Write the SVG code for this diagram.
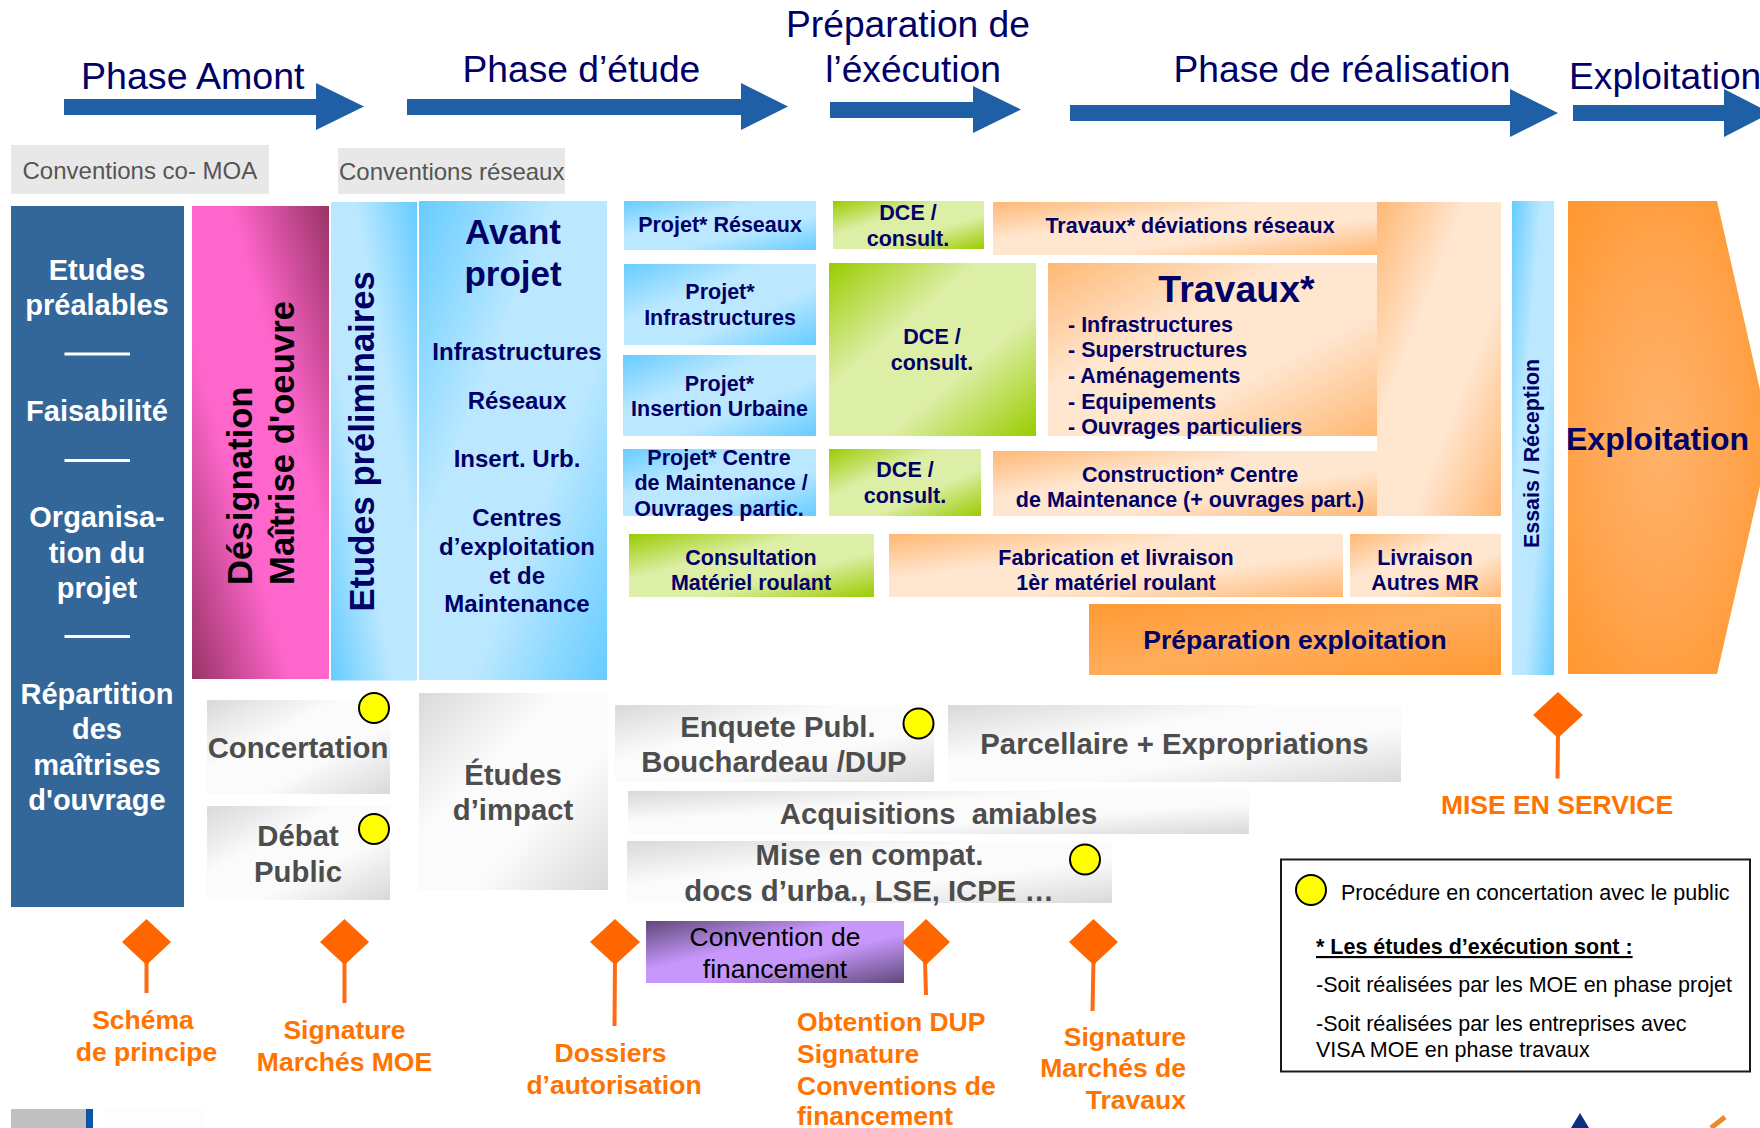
<svg xmlns="http://www.w3.org/2000/svg" width="1760" height="1128" viewBox="0 0 1760 1128">
<style>
text{font-family:"Liberation Sans",Arial,sans-serif}
.m{text-anchor:middle}
.b{font-weight:700}
.navy{fill:#000066}
.white{fill:#fff;font-weight:700;font-size:29px;text-anchor:middle}
.phase{fill:#000066;font-size:37.200px}
.conv{fill:#555;font-size:24px}
.gt{fill:#4d4d4d;font-weight:700;font-size:29.300px;text-anchor:middle}
.nv{fill:#000066;font-weight:700;font-size:21.500px;text-anchor:middle}
.ap{fill:#000066;font-weight:700;font-size:24px;text-anchor:middle}
.or{fill:#ff7300;font-weight:700;font-size:26.500px}
.dia{fill:#ff6600}
.stem{stroke:#ff6a13;stroke-width:4;fill:none}
.dot{fill:#ffff00;stroke:#000;stroke-width:2}
.arrow{fill:#1f5fa6}
.leg{fill:#000;font-size:21.500px}
.sep{stroke:#fff;stroke-width:3}
</style>
<defs>
<linearGradient id="gBlue" x1="0" y1="0" x2="1" y2="1"><stop offset="0" stop-color="#66ccff"/><stop offset=".36" stop-color="#bbe8ff"/><stop offset=".64" stop-color="#bbe8ff"/><stop offset="1" stop-color="#66ccff"/></linearGradient>
<linearGradient id="gBlueR" x1="1" y1="0" x2="0" y2="1"><stop offset="0" stop-color="#66ccff"/><stop offset=".36" stop-color="#bbe8ff"/><stop offset=".64" stop-color="#bbe8ff"/><stop offset="1" stop-color="#66ccff"/></linearGradient>
<linearGradient id="gPink" x1="1" y1="0" x2="0" y2="1"><stop offset="0" stop-color="#993366"/><stop offset=".36" stop-color="#ff66cc"/><stop offset=".64" stop-color="#ff66cc"/><stop offset="1" stop-color="#993366"/></linearGradient>
<linearGradient id="gGreen" x1="0" y1="0" x2="1" y2="1"><stop offset="0" stop-color="#99cc00"/><stop offset=".36" stop-color="#ddeea6"/><stop offset=".64" stop-color="#ddeea6"/><stop offset="1" stop-color="#99cc00"/></linearGradient>
<linearGradient id="gOr" x1="0" y1="0" x2="1" y2="1"><stop offset="0" stop-color="#ffb874"/><stop offset=".36" stop-color="#ffe6cf"/><stop offset=".64" stop-color="#ffe6cf"/><stop offset="1" stop-color="#ffb874"/></linearGradient>
<linearGradient id="gPrep" x1="0" y1="0" x2="1" y2="1"><stop offset="0" stop-color="#ff9933"/><stop offset=".5" stop-color="#ffad5c"/><stop offset="1" stop-color="#ff9933"/></linearGradient>
<radialGradient id="gExp" cx=".45" cy=".5" r=".62"><stop offset="0" stop-color="#ffb36b"/><stop offset=".55" stop-color="#ffa653"/><stop offset="1" stop-color="#ff9933"/></radialGradient>
<linearGradient id="gGrey" x1="0" y1="0" x2="1" y2="1"><stop offset="0" stop-color="#d9d9d9"/><stop offset=".36" stop-color="#fbfbfb"/><stop offset=".64" stop-color="#fbfbfb"/><stop offset="1" stop-color="#d9d9d9"/></linearGradient>
<linearGradient id="gPurple" x1="0" y1="0" x2="1" y2="1"><stop offset="0" stop-color="#5f497a"/><stop offset=".4" stop-color="#c797fb"/><stop offset=".6" stop-color="#c797fb"/><stop offset="1" stop-color="#5f497a"/></linearGradient>
</defs>
<rect width="1760" height="1128" fill="#fff"/>

<g id="phase-amont">
<polygon class="arrow" points="64,99 316,99 316,83 364,106.500 316,130 316,115 64,115"/>
<text class="phase" x="81" y="89" style="font-size:37.600px">Phase Amont</text>
</g>
<g id="phase-etude">
<polygon class="arrow" points="407,99 741,99 741,83 788,106.500 741,130 741,115 407,115"/>
<text class="phase" x="462.500" y="81.500">Phase d’étude</text>
</g>
<g id="phase-preparation">
<polygon class="arrow" points="830,102 973,102 973,86 1021,109.500 973,133 973,118 830,118"/>
<text class="phase m" x="908" y="37">Préparation de</text>
<text class="phase m" x="913" y="81.500">l’éxécution</text>
</g>
<g id="phase-realisation">
<polygon class="arrow" points="1070,105 1510,105 1510,89 1558,113 1510,137 1510,121 1070,121"/>
<text class="phase" x="1173.500" y="81.500">Phase de réalisation</text>
</g>
<g id="phase-exploitation">
<polygon class="arrow" points="1573,105 1724,105 1724,89 1771,113 1724,137 1724,121 1573,121"/>
<text class="phase" x="1569" y="89">Exploitation</text>
</g>

<g id="conv-moa"><rect x="11" y="145" width="258" height="49" fill="#e8e8e8"/><text class="conv" x="22.500" y="178.500">Conventions co- MOA</text></g>
<g id="conv-reseaux"><rect x="338" y="148" width="227" height="46" fill="#e8e8e8"/><text class="conv" x="339" y="179.500">Conventions réseaux</text></g>

<g id="etudes-prealables">
<rect x="11" y="206" width="173" height="701" fill="#336699"/>
<text class="white" x="97" y="279.500">Etudes</text>
<text class="white" x="97" y="315">préalables</text>
<line class="sep" x1="64.500" y1="354" x2="130" y2="354"/>
<text class="white" x="97" y="420.500">Faisabilité</text>
<line class="sep" x1="64.500" y1="460.500" x2="130" y2="460.500"/>
<text class="white" x="97" y="527">Organisa-</text>
<text class="white" x="97" y="562.500">tion du</text>
<text class="white" x="97" y="598">projet</text>
<line class="sep" x1="64.500" y1="636.500" x2="130" y2="636.500"/>
<text class="white" x="97" y="704">Répartition</text>
<text class="white" x="97" y="738.500">des</text>
<text class="white" x="97" y="774.500">maîtrises</text>
<text class="white" x="97" y="809.500">d'ouvrage</text>
</g>

<g id="designation-moe">
<rect x="192" y="206" width="137" height="473" fill="url(#gPink)"/>
<text class="b" font-size="34.700" fill="#000" transform="translate(251.500 585) rotate(-90)">Désignation</text>
<text class="b" font-size="34.700" fill="#000" transform="translate(294 585) rotate(-90)">Maîtrise d'oeuvre</text>
</g>
<g id="etudes-preliminaires">
<rect x="331" y="202" width="86" height="478.500" fill="url(#gBlueR)"/>
<text class="b navy" font-size="34.600" transform="translate(373.500 611.500) rotate(-90)">Etudes préliminaires</text>
</g>
<g id="avant-projet">
<rect x="419" y="201" width="188" height="479" fill="url(#gBlue)"/>
<text class="b navy m" font-size="35" x="513" y="243.500">Avant</text>
<text class="b navy m" font-size="35" x="513" y="285.500">projet</text>
<text class="ap" x="517" y="360">Infrastructures</text>
<text class="ap" x="517" y="409">Réseaux</text>
<text class="ap" x="517" y="467">Insert. Urb.</text>
<text class="ap" x="517" y="526">Centres</text>
<text class="ap" x="517" y="555">d’exploitation</text>
<text class="ap" x="517" y="584">et de</text>
<text class="ap" x="517" y="612">Maintenance</text>
</g>

<g id="projet-reseaux"><rect x="624" y="201" width="192" height="49" fill="url(#gBlue)"/><text class="nv" x="720" y="232">Projet* Réseaux</text></g>
<g id="projet-infra"><rect x="624" y="264" width="192" height="81" fill="url(#gBlue)"/><text class="nv" x="720" y="299">Projet*</text><text class="nv" x="720" y="325">Infrastructures</text></g>
<g id="projet-insertion"><rect x="623" y="355" width="193" height="81" fill="url(#gBlue)"/><text class="nv" x="719.500" y="391">Projet*</text><text class="nv" x="719.500" y="416">Insertion Urbaine</text></g>
<g id="projet-centre"><rect x="623" y="449" width="193" height="67" fill="url(#gBlue)"/><text class="nv" x="719" y="465">Projet* Centre</text><text class="nv" x="721" y="490">de Maintenance /</text><text class="nv" x="719" y="516">Ouvrages partic.</text></g>

<g id="dce-1"><rect x="833" y="201" width="151" height="48" fill="url(#gGreen)"/><text class="nv" x="908" y="220">DCE /</text><text class="nv" x="908" y="246">consult.</text></g>
<g id="dce-2"><rect x="829" y="263" width="207" height="173" fill="url(#gGreen)"/><text class="nv" x="932" y="344">DCE /</text><text class="nv" x="932" y="370">consult.</text></g>
<g id="dce-3"><rect x="829" y="449" width="152" height="67" fill="url(#gGreen)"/><text class="nv" x="905" y="477">DCE /</text><text class="nv" x="905" y="503">consult.</text></g>

<g id="travaux-tronc"><rect x="1377" y="202" width="124" height="314" fill="url(#gOr)"/></g>
<g id="travaux-deviations"><rect x="993" y="202" width="384" height="53" fill="url(#gOr)"/><text class="nv" x="1190" y="233">Travaux* déviations réseaux</text></g>
<g id="travaux">
<rect x="1048" y="263" width="329" height="173" fill="url(#gOr)"/>
<text class="b navy m" font-size="37.500" x="1236.500" y="302">Travaux*</text>
<text class="nv" style="text-anchor:start" x="1068" y="332">- Infrastructures</text>
<text class="nv" style="text-anchor:start" x="1068" y="357">- Superstructures</text>
<text class="nv" style="text-anchor:start" x="1068" y="383">- Aménagements</text>
<text class="nv" style="text-anchor:start" x="1068" y="409">- Equipements</text>
<text class="nv" style="text-anchor:start" x="1068" y="434">- Ouvrages particuliers</text>
</g>
<g id="construction-centre"><rect x="993" y="451" width="384" height="65" fill="url(#gOr)"/><text class="nv" x="1190" y="482">Construction* Centre</text><text class="nv" x="1190" y="507">de Maintenance (+ ouvrages part.)</text></g>
<g id="consultation-mr"><rect x="629" y="534" width="245" height="63" fill="url(#gGreen)"/><text class="nv" x="751" y="565">Consultation</text><text class="nv" x="751" y="590">Matériel roulant</text></g>
<g id="fabrication"><rect x="889" y="534" width="454" height="63" fill="url(#gOr)"/><text class="nv" x="1116" y="565">Fabrication et livraison</text><text class="nv" x="1116" y="590">1èr matériel roulant</text></g>
<g id="livraison"><rect x="1350" y="534" width="151" height="63" fill="url(#gOr)"/><text class="nv" x="1425" y="565">Livraison</text><text class="nv" x="1425" y="590">Autres MR</text></g>
<g id="preparation-exploitation"><rect x="1089" y="604" width="412" height="71" fill="url(#gPrep)"/><text class="b navy m" font-size="26.500" x="1295" y="649">Préparation exploitation</text></g>
<g id="essais-reception"><rect x="1512" y="201" width="42" height="474" fill="url(#gBlue)"/><text class="b navy" font-size="21.400" transform="translate(1538.500 548) rotate(-90)">Essais / Réception</text></g>
<g id="exploitation"><polygon points="1568,201 1717,201 1771,438 1717,674 1568,674" fill="url(#gExp)"/><text class="b navy" font-size="32" x="1566" y="450">Exploitation</text></g>

<g id="concertation"><rect x="207" y="700" width="183" height="94" fill="url(#gGrey)"/><text class="gt" x="298" y="757.500">Concertation</text><ellipse class="dot" cx="374" cy="708" rx="15" ry="15"/></g>
<g id="debat-public"><rect x="207" y="806" width="183" height="94" fill="url(#gGrey)"/><text class="gt" x="298" y="846">Débat</text><text class="gt" x="298" y="881.500">Public</text><ellipse class="dot" cx="374" cy="829" rx="15" ry="15"/></g>
<g id="etudes-impact"><rect x="419" y="693" width="189" height="197" fill="url(#gGrey)"/><text class="gt" x="513" y="784.500">Études</text><text class="gt" x="513" y="820">d’impact</text></g>
<g id="enquete-publique"><rect x="615" y="705" width="319" height="77" fill="url(#gGrey)"/><text class="gt" x="778" y="737">Enquete Publ.</text><text class="gt" x="774" y="771.500">Bouchardeau /DUP</text><ellipse class="dot" cx="918.500" cy="723.500" rx="15" ry="15"/></g>
<g id="parcellaire"><rect x="948" y="705" width="453" height="77" fill="url(#gGrey)"/><text class="gt" x="1174.500" y="754">Parcellaire + Expropriations</text></g>
<g id="acquisitions"><rect x="628" y="791" width="621" height="43" fill="url(#gGrey)"/><text class="gt" x="938.500" y="823.500">Acquisitions&#160; amiables</text></g>
<g id="mise-compat"><rect x="627" y="841" width="485" height="62" fill="url(#gGrey)"/><text class="gt" x="869.500" y="865">Mise en compat.</text><text class="gt" x="869" y="901">docs d’urba., LSE, ICPE …</text><ellipse class="dot" cx="1085" cy="859.500" rx="15" ry="15"/></g>
<g id="convention-financement"><rect x="646" y="921" width="258" height="62" fill="url(#gPurple)"/><text class="m" font-size="26.500" fill="#000" x="775" y="945.500">Convention de</text><text class="m" font-size="26.500" fill="#000" x="775" y="977.500">financement</text></g>

<g id="connectors">
<line class="stem" x1="146.500" y1="960" x2="146.500" y2="993"/>
<line class="stem" x1="344.500" y1="960" x2="344.500" y2="1003"/>
<line class="stem" x1="615" y1="960" x2="614.500" y2="1026"/>
<line class="stem" x1="925" y1="960" x2="926" y2="995"/>
<line class="stem" x1="1093.500" y1="960" x2="1092.500" y2="1011"/>
<line class="stem" x1="1558" y1="733" x2="1557.500" y2="778.500"/>
</g>

<g id="jalon-schema"><polygon class="dia" points="146.500,919 171,942 146.500,965 122,942"/><text class="or m" x="143" y="1029">Schéma</text><text class="or m" x="146.500" y="1061">de principe</text></g>
<g id="jalon-moe"><polygon class="dia" points="344.500,919 369,942 344.500,965 320,942"/><text class="or m" x="344.500" y="1039">Signature</text><text class="or m" x="344.500" y="1071">Marchés MOE</text></g>
<g id="jalon-dossiers"><polygon class="dia" points="615,919 640,942 615,965 590,942"/><text class="or m" x="610.500" y="1062">Dossiers</text><text class="or m" x="614" y="1094">d’autorisation</text></g>
<g id="jalon-dup"><polygon class="dia" points="926,919 950,942 926,965 902,942"/><text class="or" x="797" y="1030.500">Obtention DUP</text><text class="or" x="797" y="1062.500">Signature</text><text class="or" x="797" y="1094.500">Conventions de</text><text class="or" x="797" y="1125">financement</text></g>
<g id="jalon-travaux"><polygon class="dia" points="1093.500,919 1118,942 1093.500,965 1069,942"/><text class="or" style="text-anchor:end" x="1186" y="1045.500">Signature</text><text class="or" style="text-anchor:end" x="1186" y="1077">Marchés de</text><text class="or" style="text-anchor:end" x="1186" y="1109">Travaux</text></g>
<g id="jalon-service"><polygon class="dia" points="1558,692 1583,715 1558,738 1533,715"/><text class="or m" x="1557" y="813.500">MISE EN SERVICE</text></g>

<g id="legende">
<rect x="1281" y="859.500" width="469" height="212" fill="#fff" stroke="#1a1a1a" stroke-width="2"/>
<ellipse class="dot" cx="1311" cy="890" rx="15" ry="15"/>
<text class="leg" x="1341" y="899.500">Procédure en concertation avec le public</text>
<text class="leg b" x="1316" y="954" text-decoration="underline">* Les études d’exécution sont :</text>
<text class="leg" x="1316" y="992">-Soit réalisées par les MOE en phase projet</text>
<text class="leg" x="1316" y="1031">-Soit réalisées par les entreprises avec</text>
<text class="leg" x="1316" y="1057">VISA MOE en phase travaux</text>
</g>

<rect x="11" y="1109" width="75" height="19" fill="#c0c0c0"/>
<rect x="86" y="1109" width="7" height="19" fill="#0b55a8"/>
<rect x="103" y="1109" width="103" height="19" fill="#fdfdfd"/>
<polygon points="1580,1113 1571,1128 1589,1128" fill="#0a2f80"/>
<line x1="1725" y1="1117" x2="1711" y2="1128" stroke="#ea8a2e" stroke-width="5"/>
</svg>
